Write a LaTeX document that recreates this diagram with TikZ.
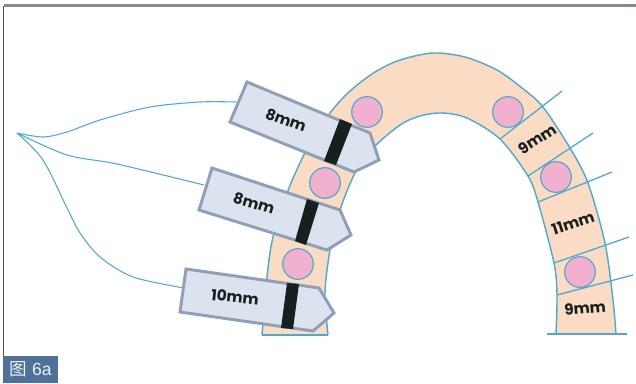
\documentclass[tikz,border=0pt]{standalone}
\usepackage{fontspec}
\setmainfont{Poppins}
\newfontfamily\cjkfont{Noto Sans CJK SC}
\newfontfamily\capfont{Liberation Sans}
\usetikzlibrary{positioning}
\definecolor{gumline}{HTML}{4FA8CF}
\definecolor{gumfill}{HTML}{FADBC4}
\definecolor{implantfill}{HTML}{F2B0CF}
\definecolor{tagfill}{HTML}{DCE3EE}
\definecolor{tagline}{HTML}{8E9FB8}
\definecolor{barblack}{HTML}{16201E}
\definecolor{capfill}{HTML}{4E7199}
\definecolor{framegray}{HTML}{8C8782}
\tikzset{
    wire/.style={draw=gumline, line width=0.9pt},
    archline/.style={draw=gumline, line width=1.2pt},
    implant/.style={circle, draw=gumline, fill=implantfill, line width=1pt, minimum size=0.92cm, inner sep=0pt},
    tagbox/.style={draw=tagline, fill=tagfill, line width=2.5pt, line join=miter},
    tagbar/.style={fill=barblack},
    mmlabel/.style={font=\fontsize{13}{15}\selectfont\bfseries, text=barblack, inner sep=0pt}
}
\begin{document}
\begin{tikzpicture}[x=0.03cm,y=-0.03cm]
    \useasboundingbox (0,0) rectangle (636,383);
    % frame
    \draw[framegray, line width=1.8pt] (636,5.5) -- (3.5,5.5);
    \draw[framegray!60!black, line width=1.4pt] (3.5,5.5) -- (3.5,356);

    % arch
    \fill[gumfill] plot[smooth] coordinates {(262,335) (267,277) (273,237) (289,188) (308,147) (330,113) (350,91) (375,72) (400,60) (433,53) (465,57) (497,70) (522,88) (543,107) (570,148) (588,183) (605,243) (613,300) (616,334)}
        -- plot[smooth] coordinates {(556,334) (557,295) (554,263) (538,202) (528,176) (500,139) (467,118) (442,113) (420,116) (400,125) (373,148) (355,173) (340,210) (330,250) (325,293) (328,335)} -- cycle;
    \draw[archline] plot[smooth] coordinates {(262,335) (267,277) (273,237) (289,188) (308,147) (330,113) (350,91) (375,72) (400,60) (433,53) (465,57) (497,70) (522,88) (543,107) (570,148) (588,183) (605,243) (613,300) (616,334)};
    \draw[archline] plot[smooth] coordinates {(556,334) (557,295) (554,263) (538,202) (528,176) (500,139) (467,118) (442,113) (420,116) (400,125) (373,148) (355,173) (340,210) (330,250) (325,293) (328,335)};
    \coordinate (baseLa) at (262,335);
    \coordinate (baseLb) at (328,335);
    \coordinate (baseRa) at (547,334);
    \coordinate (baseRb) at (627,334);
    \draw[archline] (baseLa) -- (baseLb);
    \draw[archline] (baseRa) -- (baseRb);

    % implants
    \node[implant] (impA) at (367,112) {};
    \node[implant] (impB) at (325,183) {};
    \node[implant] (impC) at (298,264) {};
    \node[implant] (impD) at (508,112) {};
    \node[implant] (impE) at (556,177) {};
    \node[implant] (impF) at (580,272) {};

    % measuring lines on the right
    \coordinate (mAa) at (500,139);
    \coordinate (mAb) at (562,91);
    \coordinate (mBa) at (528,176);
    \coordinate (mBb) at (593,133);
    \coordinate (mCa) at (538,202);
    \coordinate (mCb) at (612,172);
    \coordinate (mDa) at (554,263);
    \coordinate (mDb) at (629,237);
    \coordinate (mEa) at (557,295);
    \coordinate (mEb) at (633,275);
    \foreach \m in {mA,mB,mC,mD,mE}
        \draw[wire, line width=1.1pt] (\m a) -- (\m b);
    \node[mmlabel, rotate=33] (lblD) at (537,139) {9mm};
    \node[mmlabel, rotate=18] (lblE) at (573,223) {11mm};
    \node[mmlabel, rotate=5] (lblF) at (585,308) {9mm};

    % leaf lines from the apex
    \coordinate (apex) at (17,133);
    \coordinate (endA) at (236,102);
    \coordinate (endB) at (204,185);
    \coordinate (endC) at (184,288);
    \draw[wire] plot[smooth] coordinates {(apex) (43,137) (67,132) (100,120) (150,107) (200,102) (endA)};
    \draw[wire] plot[smooth] coordinates {(apex) (67,155) (117,164) (endB)};
    \draw[wire] plot[smooth] coordinates {(apex) (43,160) (68,210) (80,233) (100,257) (133,277) (endC)};

    % tags
    \draw[tagbox] (247,82) -- (370,133) -- (379,160) -- (354,172) -- (230,122) -- cycle;
    \fill[tagbar] (340,119) -- (352,124) -- (336,165) -- (324,161) -- cycle;
    \node[mmlabel, rotate=-20] (lblA) at (286,120) {8mm};

    \draw[tagbox] (212,168) -- (340,210) -- (351,235) -- (327,250) -- (199,210) -- cycle;
    \fill[tagbar] (307,199) -- (319,203) -- (306,245) -- (295,241) -- cycle;
    \node[mmlabel, rotate=-17] (lblB) at (254,203) {8mm};

    \draw[tagbox] (186,269) -- (319,288) -- (334,313) -- (313,331) -- (180,312) -- cycle;
    \fill[tagbar] (287,283) -- (299,284) -- (293,329) -- (281,328) -- cycle;
    \node[mmlabel, rotate=-6] (lblC) at (235,297) {10mm};

    % caption
    \node[fill=capfill, text=white!90!capfill, anchor=south west, minimum width=1.65cm, minimum height=0.81cm, inner sep=0pt, font=\fontsize{15}{17}\selectfont] (caption) at (3,383) {{\cjkfont 图} {\capfont 6a}};
\end{tikzpicture}
\end{document}
